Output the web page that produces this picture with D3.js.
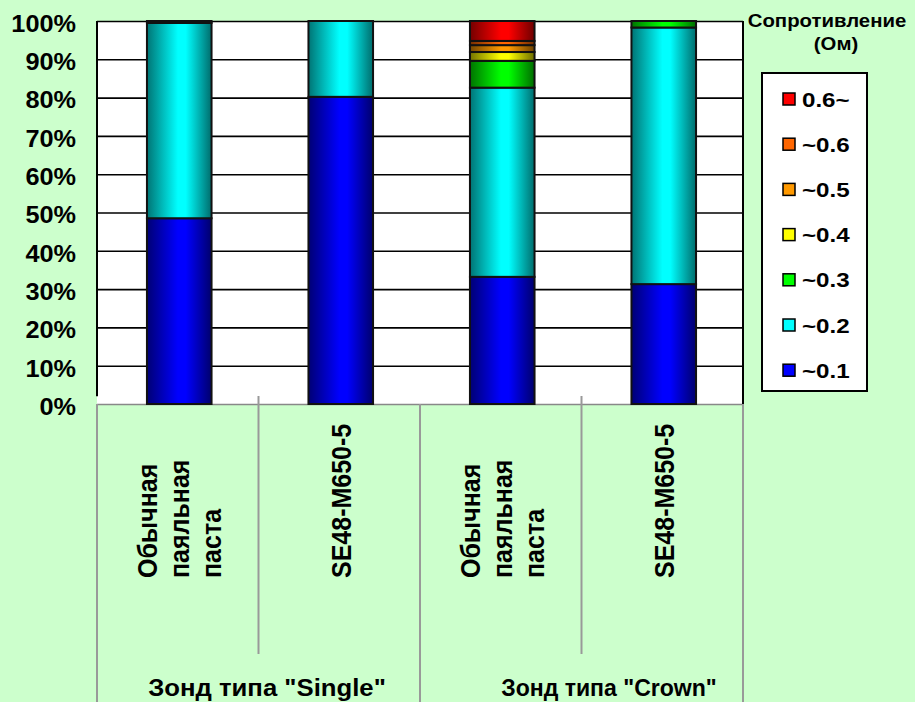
<!DOCTYPE html>
<html>
<head>
<meta charset="utf-8">
<script src="https://cdn.jsdelivr.net/npm/d3@7"></script>
<style>
  body { margin: 0; background: #ccffcc; }
  text { font-family: "Liberation Sans", Arial, sans-serif; font-weight: bold; fill: #000; }
</style>
</head>
<body>
<div id="chart"></div>
<script>

// categories (bottom to top of the label area)
var categories = [
    ["Обычная", "паяльная", "паста"],
    ["SE48-M650-5"],
    ["Обычная", "паяльная", "паста"],
    ["SE48-M650-5"]
];
var groups = ['Зонд типа "Single"', 'Зонд типа "Crown"'];

// resistance classes, bottom of the stack first
var seriesNames = ["~0.1", "~0.2", "~0.3", "~0.4", "~0.5", "~0.6", "0.6~"];
var seriesColors = ["#0000ff", "#00ffff", "#00ff00", "#ffff00", "#ff9900", "#ff6600", "#ff0000"];

var v01 = [48.5, 80.2, 33.2, 31.3];
var v02 = [51.0, 19.8, 49.4, 67.0];
var v03 = [0.5, 0, 7.0, 1.7];
var v04 = [0, 0, 2.3, 0];
var v05 = [0, 0, 1.8, 0];
var v06 = [0, 0, 1.1, 0];
var v06p = [0, 0, 5.2, 0];
var seriesValues = [v01, v02, v03, v04, v05, v06, v06p];

var yTicks = [0, 10, 20, 30, 40, 50, 60, 70, 80, 90, 100];

var W = 915, H = 702;
var plot = {left: 97, right: 743, top: 21, bottom: 404};

var svg = d3.select("#chart")
    .append("svg")
    .attr("width", W)
    .attr("height", H);

svg.append("rect")
    .attr("width", W).attr("height", H)
    .attr("fill", "#ccffcc");

// gradients for the shaded bars
var defs = svg.append("defs");
seriesColors.forEach(function(c, k) {
    var g = defs.append("linearGradient")
        .attr("id", "grad" + k)
        .attr("x1", 0).attr("x2", 1).attr("y1", 0).attr("y2", 0);
    g.append("stop").attr("offset", "0%").attr("stop-color", d3.rgb(c).darker(2.2));
    g.append("stop").attr("offset", "48%").attr("stop-color", c);
    g.append("stop").attr("offset", "60%").attr("stop-color", c);
    g.append("stop").attr("offset", "100%").attr("stop-color", d3.rgb(c).darker(2.4));
});

var x = d3.scaleBand()
    .domain(d3.range(categories.length))
    .range([plot.left, plot.right])
    .paddingInner(0.6)
    .paddingOuter(0.3);

var y = d3.scaleLinear()
    .domain([0, 100])
    .range([plot.bottom, plot.top]);

// plot area
svg.append("rect")
    .attr("x", plot.left).attr("y", plot.top)
    .attr("width", plot.right - plot.left)
    .attr("height", plot.bottom - plot.top)
    .attr("fill", "#fff");

// gridlines + labels
var yAxis = svg.append("g")
    .attr("transform", "translate(" + plot.left + ",0)")
    .call(d3.axisLeft(y)
        .tickValues(yTicks)
        .tickSizeInner(-(plot.right - plot.left))
        .tickSizeOuter(0)
        .tickPadding(21)
        .tickFormat(function(d) { return d + "%"; }));
yAxis.select(".domain").remove();
yAxis.selectAll(".tick line")
    .attr("stroke", function(d) { return d === 0 ? "#888" : "#000"; })
    .attr("stroke-width", 1.6);
yAxis.selectAll(".tick text")
    .attr("dy", "0.45em")
    .attr("x", 0)
    .style("font-size", "23px")
    .attr("transform", "translate(-21,0) scale(1.1,1)");

// left and right borders
svg.append("line")
    .attr("x1", plot.left).attr("x2", plot.left)
    .attr("y1", plot.top).attr("y2", y(2))
    .attr("stroke", "#000").attr("stroke-width", 2);
svg.append("line")
    .attr("x1", plot.right).attr("x2", plot.right)
    .attr("y1", plot.top).attr("y2", plot.bottom)
    .attr("stroke", "#000").attr("stroke-width", 2);

// stacked bars
var rows = categories.map(function(c, i) {
    var r = {idx: i};
    seriesNames.forEach(function(s, k) { r[s] = seriesValues[k][i]; });
    return r;
});
var stacked = d3.stack().keys(seriesNames)(rows);

svg.append("g")
    .selectAll("g")
    .data(stacked)
    .enter()
    .append("g")
    .attr("fill", function(d, k) { return "url(#grad" + k + ")"; })
    .selectAll("rect")
    .data(function(d) { return d.filter(function(p) { return p[1] - p[0] > 0; }); })
    .enter()
    .append("rect")
    .attr("x", function(d) { return x(d.data.idx) + 1.5; })
    .attr("width", x.bandwidth())
    .attr("y", function(d) { return y(d[1]); })
    .attr("height", function(d) { return y(d[0]) - y(d[1]); })
    .attr("stroke", "#111")
    .attr("stroke-width", 2);

// separators below the axis
var bounds = d3.range(categories.length + 1).map(function(i) { return plot.left + i * x.step(); });
svg.append("g")
    .selectAll("line")
    .data(bounds)
    .enter()
    .append("line")
    .attr("x1", function(d) { return d; })
    .attr("x2", function(d) { return d; })
    .attr("y1", function(d, i) { return i % 2 === 0 ? plot.bottom : plot.bottom - 8; })
    .attr("y2", function(d, i) { return i % 2 === 0 ? H : 654; })
    .attr("stroke", "#999")
    .attr("stroke-width", 2);

// category labels, rotated
categories.forEach(function(lines, i) {
    var cx = x(i) + x.bandwidth() / 2 + 1.5;
    lines.forEach(function(t, j) {
        var lx = cx + (j - (lines.length - 1) / 2) * 32;
        svg.append("text")
            .attr("transform", "translate(" + lx + ",578) rotate(-90) scale(1,1.12)")
            .attr("dy", "0.36em")
            .style("font-size", "25px")
            .attr("text-anchor", "start")
            .text(t);
    });
});

// group labels
var groupX = [267, 609];
var groupLen = [216, 196];
groups.forEach(function(g, i) {
    svg.append("text")
        .attr("transform", "translate(" + groupX[i] + ",696) scale(1.1,1)")
        .attr("text-anchor", "middle")
        .attr("textLength", groupLen[i])
        .attr("lengthAdjust", "spacingAndGlyphs")
        .style("font-size", "23px")
        .text(g);
});

// legend
svg.append("text")
    .attr("transform", "translate(827,27) scale(1.1,1)")
    .attr("text-anchor", "middle")
    .style("font-size", "18.5px")
    .text("Сопротивление");
svg.append("text")
    .attr("transform", "translate(836,50) scale(1.1,1)")
    .attr("text-anchor", "middle")
    .style("font-size", "18.5px")
    .text("(Ом)");

svg.append("rect")
    .attr("x", 762).attr("y", 73)
    .attr("width", 105).attr("height", 318)
    .attr("fill", "#fff")
    .attr("stroke", "#000")
    .attr("stroke-width", 2);

var legendOrder = seriesNames.map(function(s, k) { return k; }).reverse();
var leg = svg.append("g")
    .selectAll("g")
    .data(legendOrder)
    .enter()
    .append("g")
    .attr("transform", function(k, i) { return "translate(783," + (99 + i * 45.2) + ")"; });
leg.append("rect")
    .attr("x", 0).attr("y", -6)
    .attr("width", 12).attr("height", 12)
    .attr("fill", function(k) { return seriesColors[k]; })
    .attr("stroke", "#000")
    .attr("stroke-width", 1.5);
leg.append("text")
    .attr("transform", "translate(19,0) scale(1.15,1)")
    .attr("dy", "0.36em")
    .style("font-size", "21px")
    .text(function(k) { return seriesNames[k]; });

</script>
</body>
</html>
